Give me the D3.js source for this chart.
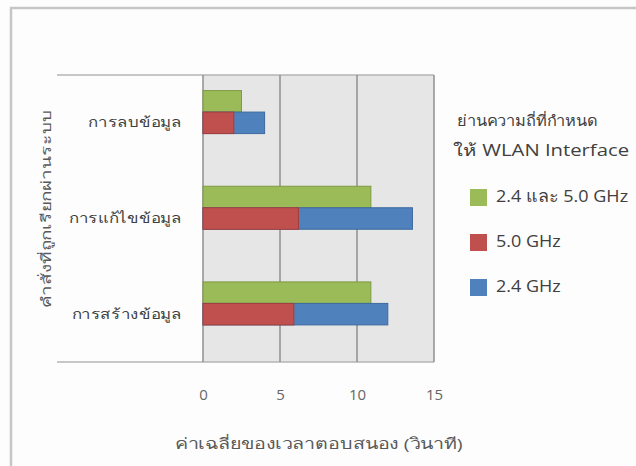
<!DOCTYPE html>
<html>
<head>
<meta charset="utf-8">
<script src="https://cdn.jsdelivr.net/npm/d3@7"></script>
<style>
  html, body { margin: 0; padding: 0; background: #fdfdfd; }
  svg { display: block; font-family: "Open Sans", "Noto Sans", "DejaVu Sans", sans-serif; }
</style>
</head>
<body>
<svg id="chart" width="636" height="466"></svg>
<script>
// Commands measured
const categories = ["การลบข้อมูล", "การแก้ไขข้อมูล", "การสร้างข้อมูล"];
// Average response time (seconds) per frequency band setting
const bothBands = [2.5, 10.9, 10.9];
const band5 = [2.0, 6.2, 5.9];
const band24 = [4.0, 13.6, 12.0];
const xTicks = [0, 5, 10, 15];

const seriesNames = ["2.4 และ 5.0 GHz", "5.0 GHz", "2.4 GHz"];
const seriesColors = ["#9bbb59", "#c0504d", "#4f81bd"];
const seriesStrokes = ["#7d9a44", "#a33f3c", "#3d6a9e"];

// 5.0 GHz and 2.4 GHz share one row; 2.4 GHz is drawn underneath
const series = [
  { name: seriesNames[0], values: bothBands, slot: "top", fill: seriesColors[0], stroke: seriesStrokes[0] },
  { name: seriesNames[2], values: band24, slot: "mid", fill: seriesColors[2], stroke: seriesStrokes[2] },
  { name: seriesNames[1], values: band5, slot: "mid", fill: seriesColors[1], stroke: seriesStrokes[1] }
];

const svg = d3.select("#chart");

// widen text horizontally by a factor (the Thai face used here is narrow)
function stretch(sel, factor) {
  sel.each(function () {
    const w = this.getComputedTextLength();
    d3.select(this).attr("textLength", w * factor).attr("lengthAdjust", "spacingAndGlyphs");
  });
}

// outer chart frame
svg.append("rect")
  .attr("x", 11).attr("y", 8)
  .attr("width", 700).attr("height", 500)
  .attr("fill", "#fdfdfd")
  .attr("stroke", "#c6c6c6").attr("stroke-width", 2.5);

const plot = { left: 203, right: 434, top: 75, bottom: 362 };
const catBoxLeft = 57;

const x = d3.scaleLinear().domain([0, 15]).range([plot.left, plot.right]);
const y = d3.scaleBand().domain(categories).range([plot.top, plot.bottom]).padding(0);
const slot = d3.scaleBand().domain(["top", "mid", "spare"])
  .range([0, y.bandwidth()]).paddingInner(0).paddingOuter(0.725);

// plot background
svg.append("rect")
  .attr("x", plot.left).attr("y", plot.top)
  .attr("width", plot.right - plot.left).attr("height", plot.bottom - plot.top)
  .attr("fill", "#e6e6e6");

// category area frame lines
svg.append("line")
  .attr("x1", catBoxLeft).attr("x2", plot.right)
  .attr("y1", plot.top).attr("y2", plot.top)
  .attr("stroke", "#b4b4b4").attr("stroke-width", 1.5);
svg.append("line")
  .attr("x1", catBoxLeft).attr("x2", plot.right)
  .attr("y1", plot.bottom).attr("y2", plot.bottom)
  .attr("stroke", "#b4b4b4").attr("stroke-width", 1.5);

// vertical gridlines
svg.append("g")
  .selectAll("line")
  .data(xTicks)
  .join("line")
  .attr("x1", d => x(d)).attr("x2", d => x(d))
  .attr("y1", plot.top).attr("y2", plot.bottom)
  .attr("stroke", "#8f8f8f").attr("stroke-width", 1.5);

// bars
const barH = slot.bandwidth();
series.forEach(s => {
  svg.append("g")
    .selectAll("rect")
    .data(categories.map((c, i) => ({ cat: c, v: s.values[i] })))
    .join("rect")
    .attr("x", x(0))
    .attr("y", d => y(d.cat) + slot(s.slot))
    .attr("width", d => x(d.v) - x(0))
    .attr("height", barH)
    .attr("fill", s.fill)
    .attr("stroke", s.stroke)
    .attr("stroke-width", 1);
});

// x axis tick labels
const xAxis = d3.axisBottom(x).tickValues(xTicks).tickSize(0).tickPadding(0);
const gx = svg.append("g").attr("transform", `translate(0, 389)`).call(xAxis);
gx.select(".domain").remove();
gx.selectAll("text")
  .attr("fill", "#666666")
  .attr("font-size", 15)
  .attr("dy", "0.71em")
  .attr("font-family", "\"Open Sans\", \"Noto Sans\", sans-serif");

// category labels
const yAxis = d3.axisLeft(y).tickSize(0).tickPadding(0);
const gy = svg.append("g").attr("transform", `translate(182, 0)`).call(yAxis);
gy.select(".domain").remove();
gy.selectAll("text")
  .attr("fill", "#404040")
  .attr("font-size", 14)
  .attr("font-family", "\"Open Sans\", \"Noto Sans\", sans-serif")
  .call(stretch, 1.2);

// axis titles
svg.append("text")
  .attr("x", (plot.left + plot.right) / 2).attr("y", 445)
  .attr("text-anchor", "middle").attr("dominant-baseline", "middle")
  .attr("fill", "#595959").attr("font-size", 15)
  .attr("textLength", 288).attr("lengthAdjust", "spacingAndGlyphs")
  .text("ค่าเฉลี่ยของเวลาตอบสนอง (วินาที)");

svg.append("text")
  .attr("transform", "translate(47, 209) rotate(-90)")
  .attr("text-anchor", "middle").attr("dominant-baseline", "middle")
  .attr("fill", "#595959").attr("font-size", 14)
  .attr("textLength", 198).attr("lengthAdjust", "spacingAndGlyphs")
  .text("คำสั่งที่ถูกเรียกผ่านระบบ");

// legend
const legend = svg.append("g");
legend.append("text")
  .attr("x", 457).attr("y", 122).attr("dominant-baseline", "middle")
  .attr("fill", "#404040").attr("font-size", 15)
  .attr("textLength", 141).attr("lengthAdjust", "spacingAndGlyphs")
  .text("ย่านความถี่ที่กำหนด");
legend.append("text")
  .attr("x", 453).attr("y", 152).attr("dominant-baseline", "middle")
  .attr("fill", "#404040").attr("font-size", 16)
  .attr("textLength", 176).attr("lengthAdjust", "spacingAndGlyphs")
  .text("ให้ WLAN Interface");

const legendY = d3.scalePoint().domain(seriesNames).range([197, 287]);
const items = legend.selectAll("g.item")
  .data(seriesNames)
  .join("g")
  .attr("class", "item")
  .attr("transform", d => `translate(470, ${legendY(d)})`);
items.append("rect")
  .attr("x", 0).attr("y", -8).attr("width", 17).attr("height", 17)
  .attr("fill", (d, i) => seriesColors[i]);
items.append("text")
  .attr("x", 26).attr("y", 1).attr("dominant-baseline", "middle")
  .attr("fill", "#404040").attr("font-size", 16.5)
  .text(d => d)
  .call(stretch, 1.09);
</script>
</body>
</html>
